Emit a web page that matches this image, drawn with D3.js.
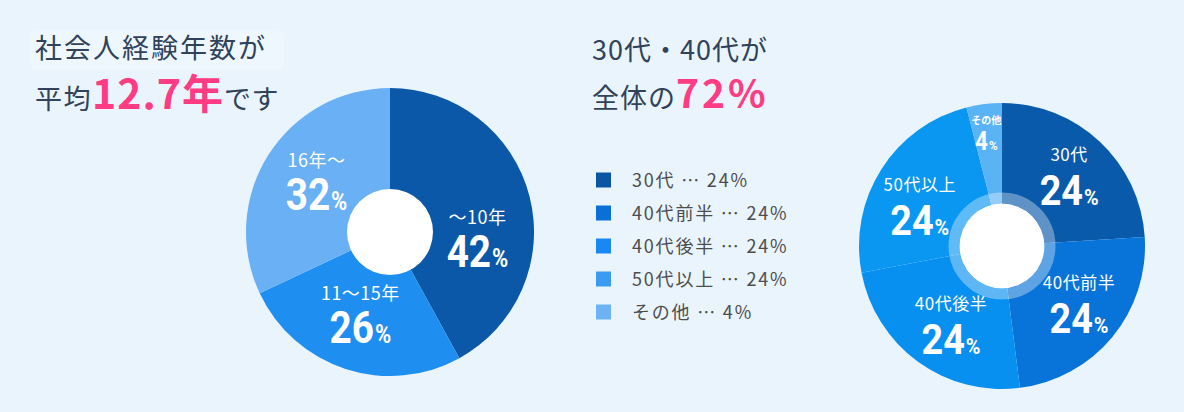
<!DOCTYPE html>
<html><head><meta charset="utf-8">
<script src="https://cdn.jsdelivr.net/npm/d3@7"></script>
<style>html,body{margin:0;padding:0;background:#eaf4fd;}</style>
</head>
<body><svg id="c" width="1184" height="412"></svg>
<script>
// ---- data ----
const expCategories = ["〜10年", "11〜15年", "16年〜"];
const expValues = [42, 26, 32];
const ageCategories = ["30代", "40代前半", "40代後半", "50代以上", "その他"];
const ageValues = [24, 24, 24, 24, 4];
const leftTitle = ["社会人経験年数が", "平均", "12.7年", "です"];
const rightTitle = ["30代・40代が", "全体の", "72%"];

// ---- styles / layout ----
const expColors = ["#0b58a8", "#1e8ef0", "#69b0f5"];
const ageColors = ["#0a5aab", "#0873d8", "#0890f0", "#0a97f2", "#5ab3f5"];
const legendColors = ["#0b56a3", "#0a6fd6", "#1a88f2", "#3b9af2", "#6cb2f5"];
const expLabelLayout = [[21, 88], [1, 91], [0, 87]];          // [angle shift deg, radius]
const ageLabelLayout = [[3, 93], [0, 100], [-5, 99], [-10, 89], [-1, 110]];

const JP = "'Noto Sans CJK JP','Noto Sans',sans-serif";
const NUM = "Roboto,'Noto Sans',sans-serif";
const svg = d3.select("#c");
svg.append("rect").attr("width", 1184).attr("height", 412).attr("fill", "#eaf4fd");
svg.append("rect").attr("x", 30).attr("y", 30).attr("width", 254).attr("height", 40).attr("rx", 8).attr("fill", "#eff7fe");

// ---- titles ----
svg.append("text").attr("x", 35).attr("y", 58).attr("font-family", JP).attr("font-size", 27)
  .attr("letter-spacing", 2).attr("fill", "#30435a").text(leftTitle[0]);
const t2 = svg.append("text").attr("x", 35).attr("y", 109).attr("font-family", JP).attr("fill", "#30435a");
t2.append("tspan").attr("font-size", 27).attr("letter-spacing", 1.5).text(leftTitle[1]);
t2.append("tspan").attr("font-size", 41).attr("font-weight", 700).attr("fill", "#ff3b83").attr("letter-spacing", 1).text(leftTitle[2]);
t2.append("tspan").attr("font-size", 27).attr("letter-spacing", 0.5).text(leftTitle[3]);

svg.append("text").attr("x", 592).attr("y", 60).attr("font-family", JP).attr("font-size", 27)
  .attr("letter-spacing", 1).attr("fill", "#30435a").text(rightTitle[0]);
const t4 = svg.append("text").attr("x", 592).attr("y", 108).attr("font-family", JP).attr("fill", "#30435a");
t4.append("tspan").attr("font-size", 27).attr("letter-spacing", 1).text(rightTitle[1]);
t4.append("tspan").attr("font-size", 39).attr("font-weight", 700).attr("fill", "#ff3b83").attr("letter-spacing", 3).text(rightTitle[2]);

// ---- helpers ----
const deg = Math.PI / 180;
function drawDonut(cx, cy, R, values, colors) {
  const pie = d3.pie().sort(null).value(d => d);
  const arcs = pie(values);
  const g = svg.append("g").attr("transform", `translate(${cx},${cy})`);
  const arc = d3.arc().innerRadius(0).outerRadius(R);
  g.selectAll("path").data(arcs).join("path").attr("d", arc).attr("fill", (d, i) => colors[i]);
  return {g, arcs};
}
function labelPos(d, layout) {
  const a = (d.startAngle + d.endAngle) / 2 + layout[0] * deg;
  return [Math.sin(a) * layout[1], -Math.cos(a) * layout[1]];
}
function valueText(g, x, y, num, numSize, pctSize, sx) {
  const t = g.append("text").attr("transform", `translate(${x},${y}) scale(${sx},1)`)
    .attr("text-anchor", "middle").attr("fill", "#fff").attr("font-family", NUM).attr("font-weight", 700);
  t.append("tspan").attr("font-size", numSize).text(num);
  t.append("tspan").attr("font-size", pctSize).attr("dx", 1).text("%");
}

// ---- left donut ----
const L = drawDonut(390, 232, 144, expValues, expColors);
L.g.append("circle").attr("r", 43).attr("fill", "#fff");
L.arcs.forEach((d, i) => {
  const [x, y] = labelPos(d, expLabelLayout[i]);
  L.g.append("text").attr("x", x).attr("y", y - 18).attr("text-anchor", "middle")
    .attr("font-family", JP).attr("font-size", 18).attr("letter-spacing", 0.5).attr("fill", "#fff").text(expCategories[i]);
  valueText(L.g, x, y + 25, expValues[i], 44, 25, 0.88);
});

// ---- right donut ----
const Rr = drawDonut(1002, 246, 143, ageValues, ageColors);
Rr.g.append("circle").attr("r", 48).attr("fill", "none").attr("stroke", "#fff").attr("stroke-opacity", 0.35).attr("stroke-width", 11);
Rr.g.append("circle").attr("r", 42.5).attr("fill", "#fff");
Rr.arcs.forEach((d, i) => {
  const [x, y] = labelPos(d, ageLabelLayout[i]);
  const small = ageValues[i] < 10;
  Rr.g.append("text").attr("x", x).attr("y", y + (small ? -13 : -21)).attr("text-anchor", "middle")
    .attr("font-family", JP).attr("font-size", small ? 10 : 17).attr("font-weight", small ? 700 : 400)
    .attr("letter-spacing", small ? 0 : 0.5).attr("fill", "#fff").text(ageCategories[i]);
  valueText(Rr.g, x, y + (small ? 13 : 23), ageValues[i], small ? 25 : 42, small ? 13 : 22, 0.9);
});

// ---- legend ----
const lg = svg.append("g");
ageCategories.forEach((c, i) => {
  const y = 180 + i * 33;
  lg.append("rect").attr("x", 596).attr("y", y - 7.5).attr("width", 15).attr("height", 15).attr("fill", legendColors[i]);
  lg.append("text").attr("x", 632).attr("y", y + 7).attr("font-family", JP).attr("font-size", 18)
    .attr("fill", "#4d4d4d").attr("letter-spacing", 1.8).text(`${c} ⋯ ${ageValues[i]}%`);
});
</script>
</body></html>
